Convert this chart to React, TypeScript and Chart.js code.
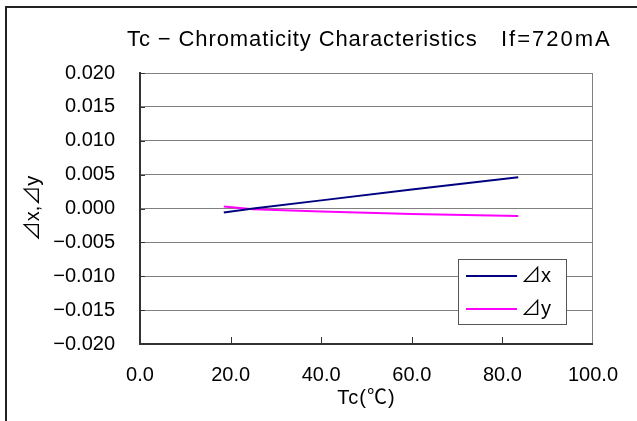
import React, { useEffect, useRef } from "react";
import { Chart, registerables } from "chart.js";

Chart.register(...registerables);

// ---- data ----
const tcX: number[] = [18.5, 25, 40, 60, 83.5];
const deltaX: number[] = [-0.0006, 0.0, 0.0012, 0.0028, 0.0046];
const tcY: number[] = [18.5, 25, 40, 60, 83.5];
const deltaY: number[] = [0.0003, -0.0001, -0.00045, -0.0008, -0.0011];
const seriesNames: string[] = ["⊿x", "⊿y"];
const xTickValues: number[] = [0, 20, 40, 60, 80, 100];
const yTickValues: number[] = [0.02, 0.015, 0.01, 0.005, 0, -0.005, -0.01, -0.015, -0.02];
const titleText = "Tc − Chromaticity Characteristics";
const conditionText = "If=720mA";
const xTitle = "Tc(℃)";
const yTitle = "⊿x,⊿y";

const FONT = "'Liberation Sans', 'Noto Sans CJK JP', Arial, sans-serif";
const colors = ["#000080", "#FF00FF"];

const fmtY = (v: number) => {
  const s = Math.abs(v).toFixed(3);
  return v < -1e-9 ? "−" + s : s;
};

const decorPlugin = {
  id: "decor",
  beforeDraw(chart: any) {
    const ctx = chart.ctx;
    ctx.save();
    ctx.fillStyle = "#ffffff";
    ctx.fillRect(0, 0, chart.width, chart.height);
    // outer frame
    ctx.strokeStyle = "#222222";
    ctx.lineWidth = 2;
    ctx.beginPath();
    ctx.moveTo(6, chart.height + 5);
    ctx.lineTo(6, 7);
    ctx.lineTo(chart.width + 5, 7);
    ctx.stroke();
    ctx.restore();
  },
  afterDraw(chart: any) {
    const ctx = chart.ctx;
    const area = chart.chartArea;
    const xs = chart.scales.x;
    const ys = chart.scales.y;
    ctx.save();
    ctx.fillStyle = "#000";
    ctx.textBaseline = "middle";
    // title
    ctx.font = `22px ${FONT}`;
    ctx.textAlign = "left";
    (ctx as any).letterSpacing = "0.9px";
    ctx.fillText(titleText, 127, 40);
    (ctx as any).letterSpacing = "2px";
    ctx.fillText(conditionText, 501, 40);
    (ctx as any).letterSpacing = "0px";
    // x title
    ctx.font = `20px ${FONT}`;
    ctx.textAlign = "center";
    (ctx as any).letterSpacing = "1px";
    ctx.fillText(xTitle, (area.left + area.right) / 2, 398);
    (ctx as any).letterSpacing = "0px";
    // y title
    ctx.save();
    ctx.translate(33, (area.top + area.bottom) / 2);
    ctx.rotate(-Math.PI / 2);
    ctx.fillText(yTitle, 0, 0);
    ctx.restore();
    // inner tick marks
    ctx.strokeStyle = "#333";
    ctx.lineWidth = 1;
    ctx.beginPath();
    yTickValues.forEach((v) => {
      const y = Math.round(ys.getPixelForValue(v)) + 0.5;
      ctx.moveTo(area.left, y);
      ctx.lineTo(area.left + 5, y);
    });
    xTickValues.slice(1, -1).forEach((v) => {
      const x = Math.round(xs.getPixelForValue(v)) + 0.5;
      ctx.moveTo(x, area.bottom);
      ctx.lineTo(x, area.bottom - 7);
    });
    ctx.stroke();
    // legend
    const bx = 458, by = 259, bw = 108, bh = 65;
    ctx.fillStyle = "#fff";
    ctx.fillRect(bx, by, bw, bh);
    ctx.strokeStyle = "#555";
    ctx.lineWidth = 1;
    ctx.strokeRect(bx + 0.5, by + 0.5, bw, bh);
    chart.data.datasets.forEach((ds: any, i: number) => {
      const y = by + 17 + i * 33;
      ctx.strokeStyle = ds.borderColor;
      ctx.lineWidth = 2;
      ctx.beginPath();
      ctx.moveTo(bx + 8, y);
      ctx.lineTo(bx + 59, y);
      ctx.stroke();
      ctx.fillStyle = "#000";
      ctx.textAlign = "left";
      ctx.font = `20px ${FONT}`;
      ctx.fillText(ds.label, bx + 63, y);
    });
    ctx.restore();
  },
};

export default function App() {
  const ref = useRef<HTMLCanvasElement | null>(null);
  useEffect(() => {
    if (!ref.current) return;
    const chart = new Chart(ref.current, {
      type: "line",
      data: {
        datasets: [
          {
            label: seriesNames[0],
            data: tcX.map((x, i) => ({ x, y: deltaX[i] })),
            borderColor: colors[0],
            backgroundColor: colors[0],
            borderWidth: 2,
            pointRadius: 0,
            tension: 0,
          },
          {
            label: seriesNames[1],
            data: tcY.map((x, i) => ({ x, y: deltaY[i] })),
            borderColor: colors[1],
            backgroundColor: colors[1],
            borderWidth: 2,
            pointRadius: 0,
            tension: 0,
          },
        ],
      },
      options: {
        animation: false,
        responsive: false,
        devicePixelRatio: 1,
        layout: { padding: { top: 73, right: 40, left: 0, bottom: 0 } },
        plugins: {
          legend: { display: false },
          title: { display: false },
          tooltip: { enabled: false },
        },
        scales: {
          x: {
            type: "linear",
            min: 0,
            max: 100,
            afterBuildTicks: (s: any) => {
              s.ticks = xTickValues.map((v) => ({ value: v }));
            },
            afterFit: (s: any) => {
              s.height = 77;
            },
            ticks: {
              color: "#000",
              font: { family: FONT, size: 20 },
              padding: 19,
              maxRotation: 0,
              autoSkip: false,
              callback: (v: any) => Number(v).toFixed(1),
            },
            grid: {
              drawTicks: false,
              color: (c: any) => (c.tick && c.tick.value === 100 ? "#808080" : "rgba(0,0,0,0)"),
              lineWidth: 1,
            },
            border: { display: true, color: "#333", width: 2 },
          },
          y: {
            type: "linear",
            min: -0.02,
            max: 0.02,
            afterBuildTicks: (s: any) => {
              s.ticks = yTickValues.map((v) => ({ value: v }));
            },
            afterFit: (s: any) => {
              s.width = 140;
            },
            ticks: {
              color: "#000",
              font: { family: FONT, size: 20 },
              padding: 25,
              autoSkip: false,
              callback: (v: any) => fmtY(Number(v)),
            },
            grid: {
              drawTicks: false,
              color: "#808080",
              lineWidth: 1,
            },
            border: { display: true, color: "#333", width: 2 },
          },
        },
      },
      plugins: [decorPlugin],
    });
    return () => chart.destroy();
  }, []);
  return (
    <div style={{ position: "absolute", left: 0, top: 0, width: 637, height: 421 }}>
      <canvas ref={ref} width={637} height={421} />
    </div>
  );
}
